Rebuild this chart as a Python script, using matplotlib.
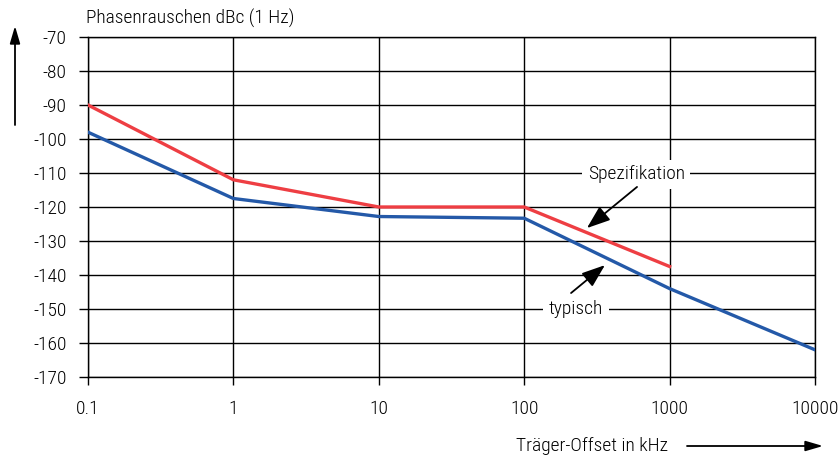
import matplotlib
matplotlib.use("Agg")
import matplotlib.pyplot as plt

# Offset frequencies (kHz) and phase noise (dBc/Hz)
spec_offset = [0.1, 1, 10, 100, 1000]
spec_noise = [-90, -112, -120, -120, -137.5]
typ_offset = [0.1, 1, 10, 100, 1000, 10000]
typ_noise = [-98, -117.5, -122.8, -123.3, -144, -162]

x_ticks = [0.1, 1, 10, 100, 1000, 10000]
x_tick_labels = ["0.1", "1", "10", "100", "1000", "10000"]
y_ticks = list(range(-170, -69, 10))

plt.rcParams["font.family"] = ["Roboto Condensed", "DejaVu Sans"]
plt.rcParams["font.weight"] = 300
FS = 14

W, H = 839, 459
fig = plt.figure(figsize=(W / 100, H / 100), dpi=100)
ax = fig.add_axes([88 / W, 1 - 377 / H, (815 - 88) / W, (377 - 37) / H])

ax.set_xscale("log")
ax.set_xlim(0.1, 10000)
ax.set_ylim(-170, -70)
ax.set_xticks(x_ticks)
ax.set_xticklabels(x_tick_labels)
ax.minorticks_off()
ax.set_yticks(y_ticks)
ax.set_yticklabels([str(v) for v in y_ticks])
ax.grid(True, color="black", linewidth=1.0)
for s in ax.spines.values():
    s.set_color("black")
    s.set_linewidth(1.0)
ax.tick_params(axis="x", direction="out", length=5.5, width=1.0, pad=11, labelsize=FS)
ax.tick_params(axis="y", direction="out", length=6.5, width=1.0, pad=9, labelsize=FS)

ax.plot(typ_offset, typ_noise, color="#2459A8", linewidth=2.4, solid_joinstyle="miter", zorder=3)
ax.plot(spec_offset, spec_noise, color="#EE3E43", linewidth=2.4, solid_joinstyle="miter", zorder=3)

white = dict(facecolor="white", edgecolor="none", pad=4)
ax.text(590, -110.4, "Spezifikation", fontsize=FS, ha="center", va="center", bbox=white, zorder=4)
ax.text(227, -150, "typisch", fontsize=FS, ha="center", va="center", bbox=white, zorder=4)

arrow = dict(arrowstyle="-|>,head_length=0.65,head_width=0.24", color="black", lw=1.3,
             mutation_scale=22, shrinkA=0, shrinkB=0)
ax.annotate("", xy=(270, -126.2), xytext=(597, -114.1), arrowprops=arrow, zorder=5)
ax.annotate("", xy=(359, -137.1), xytext=(210, -145.3), arrowprops=arrow, zorder=5)

# Axis titles with direction arrows
fig.text(86 / W, 1 - 18 / H, "Phasenrauschen dBc (1 Hz)", fontsize=FS, ha="left", va="center")
fig.text(592 / W, 1 - 446 / H, "Träger-Offset in kHz", fontsize=FS, ha="center", va="center")
axis_arrow = dict(arrowstyle="-|>,head_length=0.75,head_width=0.22", color="black", lw=1.3,
                  mutation_scale=14, shrinkA=0, shrinkB=0)
ax.annotate("", xy=(15, H - 26), xytext=(15, H - 125), xycoords="figure pixels",
            textcoords="figure pixels", arrowprops=axis_arrow, annotation_clip=False)
ax.annotate("", xy=(823, H - 446), xytext=(687, H - 446), xycoords="figure pixels",
            textcoords="figure pixels", arrowprops=axis_arrow, annotation_clip=False)

fig.savefig("out.png", dpi=100)
